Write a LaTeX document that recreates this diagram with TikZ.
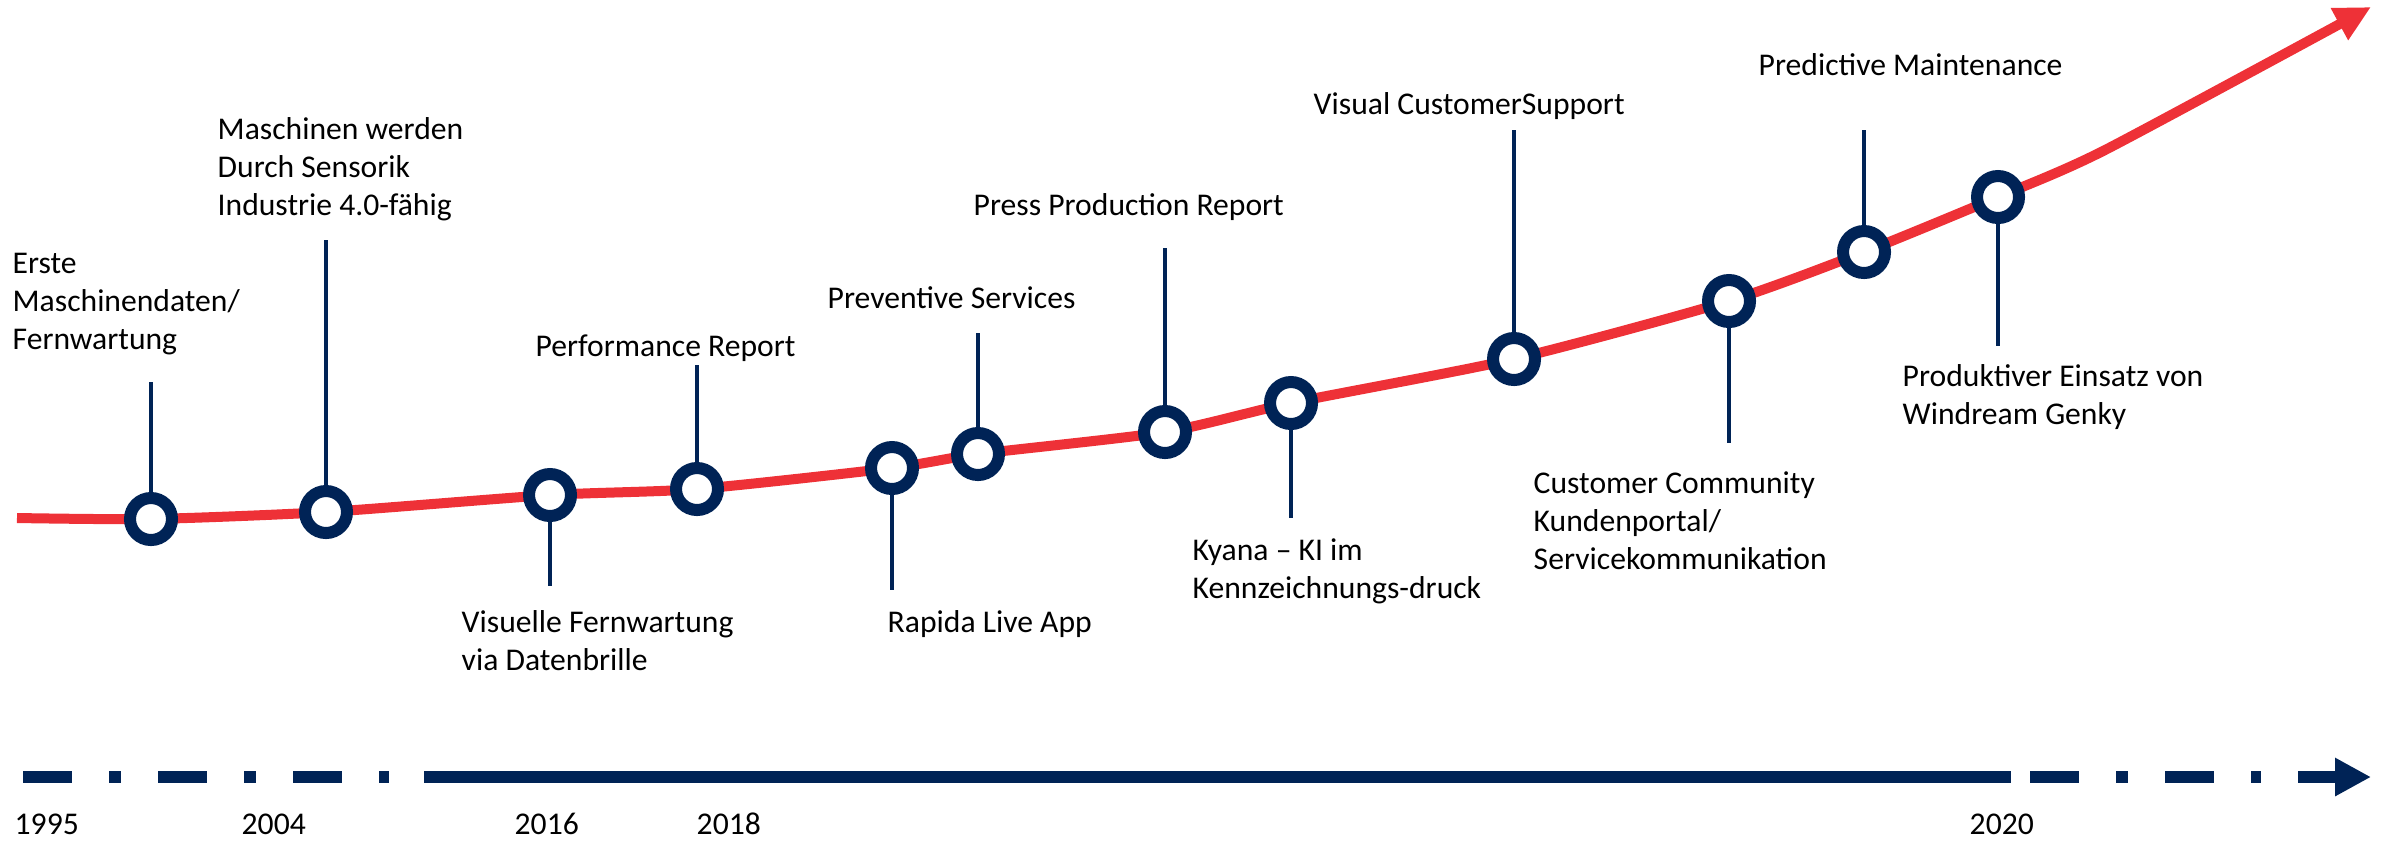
\documentclass[tikz,border=0pt]{standalone}
\usepackage{fontspec}
\setmainfont{Carlito}
\usepackage{tikz}
\usetikzlibrary{arrows.meta}

\definecolor{kbnavy}{HTML}{002356}
\definecolor{kbred}{HTML}{EE3137}

\tikzset{
    ring/.style={circle, draw=kbnavy, line width=1.2mm, fill=white, minimum size=4.2mm, inner sep=0},
    stem/.style={kbnavy, line width=0.33mm},
    trend/.style={kbred, line width=1mm, -{Triangle[length=3.6mm,width=3.4mm]}},
    axisline/.style={kbnavy, line width=1.2mm},
    dashdot/.style={dash pattern=on 4.9mm off 3.7mm on 1.2mm off 3.7mm},
    lbl/.style={anchor=base west, inner sep=0, align=left, font=\fontsize{9}{10.8}\selectfont},
}

\begin{document}
\begin{tikzpicture}[x=0.1mm, y=-0.1mm]
        
        \useasboundingbox (0,0) rectangle (2392,841);
        
        % points on the curve
        \coordinate (p1) at (151,519);
        \coordinate (p2) at (326,512);
        \coordinate (p3) at (550,495);
        \coordinate (p4) at (697,489);
        \coordinate (p5) at (892,468);
        \coordinate (p6) at (978,454);
        \coordinate (p7) at (1165,432);
        \coordinate (p8) at (1291,403);
        \coordinate (p9) at (1514,359);
        \coordinate (p10) at (1729,301);
        \coordinate (p11) at (1864,252);
        \coordinate (p12) at (1998,197);
        
        \draw [trend] plot [smooth, tension=0.4] coordinates {(17,518) (p1) (p2) (p3) (p4) (p5) (p6) (p7) (p8) (p9) (p10) (p11) (p12) (2105,150) (2371,7)};
        
        \node [ring] (m1) at (p1) {};
        \node [ring] (m2) at (p2) {};
        \node [ring] (m3) at (p3) {};
        \node [ring] (m4) at (p4) {};
        \node [ring] (m5) at (p5) {};
        \node [ring] (m6) at (p6) {};
        \node [ring] (m7) at (p7) {};
        \node [ring] (m8) at (p8) {};
        \node [ring] (m9) at (p9) {};
        \node [ring] (m10) at (p10) {};
        \node [ring] (m11) at (p11) {};
        \node [ring] (m12) at (p12) {};
        
        % stem ends
        \coordinate (s1) at (151,382);
        \coordinate (s2) at (326,240);
        \coordinate (s3) at (550,586);
        \coordinate (s4) at (697,365);
        \coordinate (s5) at (892,590);
        \coordinate (s6) at (978,333);
        \coordinate (s7) at (1165,248);
        \coordinate (s8) at (1291,518);
        \coordinate (s9) at (1514,130);
        \coordinate (s10) at (1729,443);
        \coordinate (s11) at (1864,130);
        \coordinate (s12) at (1998,346);
        
        \draw [stem] (m1.north) -- (s1);
        \draw [stem] (m2.north) -- (s2);
        \draw [stem] (m3.south) -- (s3);
        \draw [stem] (m4.north) -- (s4);
        \draw [stem] (m5.south) -- (s5);
        \draw [stem] (m6.north) -- (s6);
        \draw [stem] (m7.north) -- (s7);
        \draw [stem] (m8.south) -- (s8);
        \draw [stem] (m9.north) -- (s9);
        \draw [stem] (m10.south) -- (s10);
        \draw [stem] (m11.north) -- (s11);
        \draw [stem] (m12.south) -- (s12);
        
        % labels, placed at the baseline of their last line
        \node [lbl] (t1) at (12,349) {Erste\\Maschinendaten/\\Fernwartung};
        \node [lbl] (t2) at (217,215) {Maschinen werden\\Durch Sensorik\\Industrie 4.0-fähig};
        \node [lbl] (t3) at (461,670) {Visuelle Fernwartung\\via Datenbrille};
        \node [lbl] (t4) at (535,356) {Performance Report};
        \node [lbl] (t5) at (887,632) {Rapida Live App};
        \node [lbl] (t6) at (827,308) {Preventive Services};
        \node [lbl] (t7) at (973,215) {Press Production Report};
        \node [lbl] (t8) at (1192,598) {Kyana – KI im\\Kennzeichnungs-druck};
        \node [lbl] (t9) at (1313,114) {Visual CustomerSupport};
        \node [lbl] (t10) at (1533,569) {Customer Community\\Kundenportal/\\Servicekommunikation};
        \node [lbl] (t11) at (1758,75) {Predictive Maintenance};
        \node [lbl] (t12) at (1902,424) {Produktiver Einsatz von\\Windream Genky};
        
        % time axis
        \draw [axisline, dashdot] (23,777) -- (389,777);
        \draw [axisline] (424,777) -- (2011,777);
        \draw [axisline, dashdot] (2030,777) -- (2261,777);
        \draw [axisline, -{Triangle[length=3.6mm,width=3.6mm]}] (2298,777) -- (2371,777);
        
        \node [lbl] (y1995) at (14,834) {1995};
        \node [lbl] (y2004) at (241,834) {2004};
        \node [lbl] (y2016) at (514,834) {2016};
        \node [lbl] (y2018) at (696,834) {2018};
        \node [lbl] (y2020) at (1969,834) {2020};
        
        \end{tikzpicture}
\end{document}
